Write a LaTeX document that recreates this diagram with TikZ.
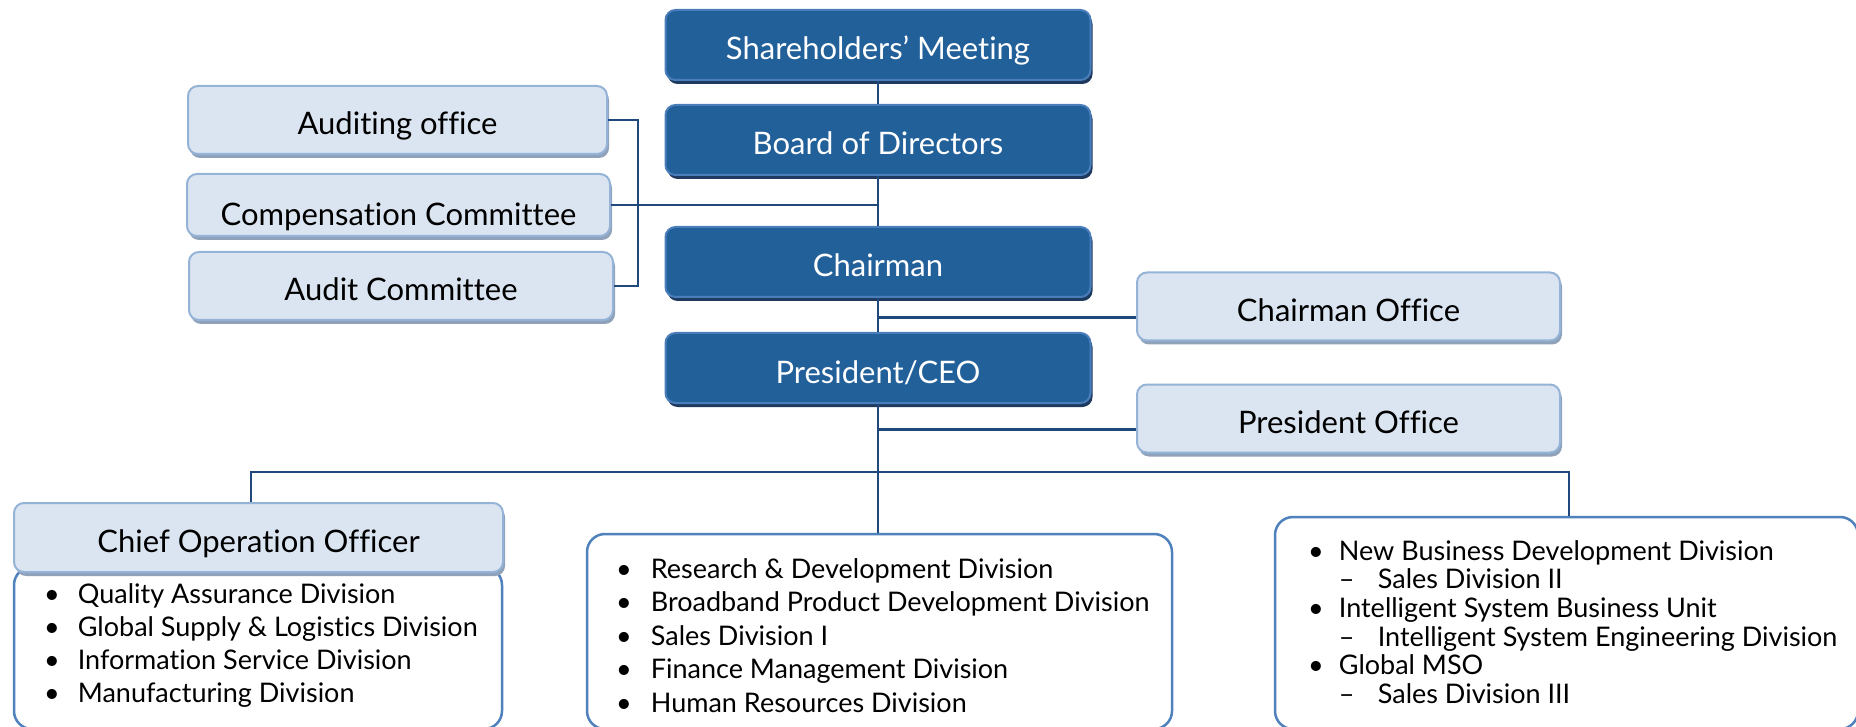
\documentclass[tikz,border=0pt]{standalone}
\usepackage{fontspec}
\setmainfont{Lato}[Ligatures=NoCommon]
\usetikzlibrary{shadows}
\definecolor{darkfill}{HTML}{22609A}
\definecolor{darkline}{HTML}{4A7EBB}
\definecolor{darkshadow}{HTML}{1F3A5F}
\definecolor{lightfill}{HTML}{DBE5F1}
\definecolor{lightline}{HTML}{95B3D7}
\definecolor{lightshadow}{HTML}{8FA2BA}
\definecolor{listline}{HTML}{4F81BD}
\definecolor{linkcol}{HTML}{1F497D}
\begin{document}
\begin{tikzpicture}[x=1pt, y=-1pt,
	topbox/.style={draw=darkline, line width=2pt, fill=darkfill,
				   rounded corners=10pt, minimum width=425pt, minimum height=70pt,
				   text=white, font=\fontsize{31}{36}\selectfont,
				   text height=30pt, text depth=0pt,
				   drop shadow={shadow xshift=2pt, shadow yshift=-4pt, fill=darkshadow, opacity=1}},
	sidebox/.style={draw=lightline, line width=2pt, fill=lightfill,
					rounded corners=10pt, minimum width=423pt, minimum height=68pt,
					font=\fontsize{31}{36}\selectfont,
					text height=30pt, text depth=0pt,
					drop shadow={shadow xshift=2pt, shadow yshift=-4pt, fill=lightshadow, opacity=1}},
	listbox/.style={draw=listline, line width=2.5pt, fill=white, rounded corners=18pt},
	listtext/.style={anchor=base west, inner sep=0pt},
	link/.style={draw=linkcol, line width=2.5pt}]
	\useasboundingbox (0,0) rectangle (1856,727);

	% list boxes first, headers on top
	\draw (258,648) node[listbox, minimum width=488pt, minimum height=162pt](coolist) {};
	\draw (879.5,631.5) node[listbox, minimum width=585pt, minimum height=195pt](midlist) {};
	\draw (1566.5,623) node[listbox, minimum width=583pt, minimum height=212pt](rightlist) {};

	\draw (878,45) node[topbox](share) {Shareholders’ Meeting};
	\draw (878,140) node[topbox](board) {Board of Directors};
	\draw (878,262) node[topbox](chair) {Chairman};
	\draw (878,368) node[topbox](pres) {President/CEO};

	\draw (397.5,120) node[sidebox, minimum width=419pt](audoff) {Auditing office};
	\draw (398.5,205) node[sidebox, minimum height=62pt, text height=41pt](comp) {Compensation Committee};
	\draw (401,286) node[sidebox, minimum width=424pt](auditc) {Audit Committee};
	\draw (1348.5,306.5) node[sidebox](chairoff) {Chairman Office};
	\draw (1348.5,418.5) node[sidebox](presoff) {President Office};
	\draw (258.5,537.5) node[sidebox, minimum width=489pt, minimum height=69pt](coo) {Chief Operation Officer};

	% the spine
	\draw[link] (share) -- (board);
	\draw[link] (board) -- (chair);
	\draw[link] (chair) -- (pres);
	\draw[link] (pres.south) -- (pres.south |- midlist.north);

	% committees on the left
	\draw[link] (comp.east) -- (comp.east -| board.south);
	\draw[link] (audoff.east) -- ++(30,0) |- (auditc.east);

	% offices on the right
	\coordinate (chairlink) at ([yshift=-11pt]chairoff.west);
	\coordinate (preslink) at ([yshift=-11pt]presoff.west);
	\draw[link] (chairlink -| chair.south) -- (chairlink);
	\draw[link] (preslink -| pres.south) -- (preslink);

	% the bus to the three groups
	\coordinate (busleft) at (251,472);
	\coordinate (busright) at (1569,472);
	\draw[link] (coo.north -| busleft) |- (busright) -- (busright |- rightlist.north);

	% the lists
	\draw (44,603) node[listtext, font=\fontsize{27}{33.3}\selectfont](cootext) {%
		\begin{tabular}[t]{@{}c@{\hspace{18pt}}l@{}}
		\textbullet & Quality Assurance Division\\
		\textbullet & Global Supply \& Logistics Division\\
		\textbullet & Information Service Division\\
		\textbullet & Manufacturing Division
		\end{tabular}};
	\draw (616,578) node[listtext, font=\fontsize{27}{33.5}\selectfont](midtext) {%
		\begin{tabular}[t]{@{}c@{\hspace{19pt}}l@{}}
		\textbullet & Research \& Development Division\\
		\textbullet & Broadband Product Development Division\\
		\textbullet & Sales Division I\\
		\textbullet & Finance Management Division\\
		\textbullet & Human Resources Division
		\end{tabular}};
	\draw (1308,560) node[listtext, font=\fontsize{27}{28.7}\selectfont](righttext) {%
		\begin{tabular}[t]{@{}c@{\hspace{15pt}}l@{}}
		\textbullet & New Business Development Division\\
		 & \makebox[39pt][l]{–}Sales Division II\\
		\textbullet & Intelligent System Business Unit\\
		 & \makebox[39pt][l]{–}Intelligent System Engineering Division\\
		\textbullet & Global MSO\\
		 & \makebox[39pt][l]{–}Sales Division III
		\end{tabular}};
\end{tikzpicture}
\end{document}
